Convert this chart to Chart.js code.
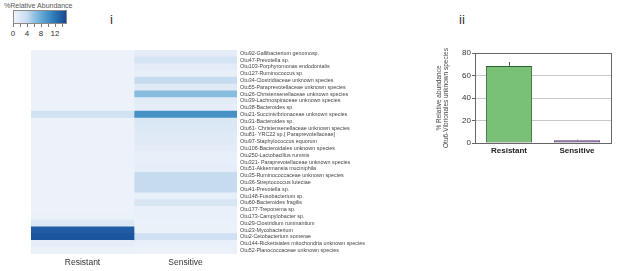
<!DOCTYPE html>
<html>
<head>
<meta charset="utf-8">
<script src="https://cdn.jsdelivr.net/npm/chart.js@4/dist/chart.umd.min.js"></script>
<style>
	* { box-sizing: border-box; }
	body { margin: 0; width: 617px; height: 271px; background: #fff; position: relative; overflow: hidden;
		font-family: "Liberation Sans", Arial, sans-serif; color: #333; }
	canvas { position: absolute; top: 0; }
	.txt { position: absolute; white-space: nowrap; }
	#bar-key { position: absolute; left: 13px; top: 10px; width: 54px; height: 14px; border: 1px solid #8a8a8a; }
	#bar-ticks { position: absolute; left: 13px; top: 24px; width: 55px; height: 3px;
		background: repeating-linear-gradient(to right, #777 0 1px, transparent 1px 7px); }
</style>
</head>
<body>
<div class="txt" style="left:4px;top:2px;font-size:7px;color:#555">%Relative Abundance</div>
<div id="bar-key"></div>
<div id="bar-ticks"></div>
<div id="key-labels"></div>
<div class="txt" style="left:110px;top:12px;font-size:13px">i</div>
<div class="txt" style="left:459px;top:12px;font-size:13px">ii</div>
<canvas id="heat" width="420" height="271" style="left:0"></canvas>
<canvas id="otu6" width="197" height="271" style="left:420px"></canvas>
<script>
const otus = [
	"Otu92-Gallibacterium genomosp.",
	"Otu47-Prevotella sp.",
	"Otu103-Porphyromonas endodontalis",
	"Otu127-Ruminococcus sp.",
	"Otu34-Clostridiaceae unknown species",
	"Otu55-Paraprevotellaceae unknown species",
	"Otu26-Christensenellaceae unknown species",
	"Otu39-Lachnospiraceae unknown species",
	"Otu38-Bacteroides sp.",
	"Otu21-Succinivibrionaceae unknown species",
	"Otu31-Bacteroides sp.",
	"Otu61- Christensenellaceae unknown species",
	"Otu81- YRC22 sp.[ Paraprevotellaceae]",
	"Otu97-Staphylococcus equorum",
	"Otu106-Bacteroidales unknown species",
	"Otu250-Lactobacillus ruminis",
	"Otu321- Paraprevotellaceae unknown species",
	"Otu51-Akkermansia muciniphila",
	"Otu35-Ruminococcaceae unknown species",
	"Otu36-Streptococcus luteciae",
	"Otu41-Prevotella sp.",
	"Otu148-Fusobacterium sp.",
	"Otu60-Bacteroides fragilis",
	"Otu177-Treponema sp.",
	"Otu173-Campylobacter sp.",
	"Otu29-Clostridium ruminantium",
	"Otu23-Mycobacterium",
	"Otu2-Cetobacterium somerae",
	"Otu144-Rickettsiales mitochondria unknown species",
	"Otu52-Planococcaceae unknown species"
];
const groups = ["Resistant", "Sensitive"];

// % relative abundance per OTU
const resistant = [0.3, 0.3, 0.3, 0.3, 0.3, 0.3, 0.3, 0.3, 0.3, 2.8,
	0.3, 0.3, 0.3, 0.3, 0.3, 0.3, 0.3, 0.3, 0.3, 0.3,
	0.3, 0.3, 0.4, 0.4, 0.5, 1.8, 14, 14.5, 1, 0.5];
const sensitive = [1.2, 2.5, 1.2, 0.8, 3.8, 1.5, 6.5, 1.3, 1, 10,
	2, 1.8, 1.5, 1.5, 1.2, 0.8, 0.8, 1, 3.8, 3.8,
	3.8, 0.8, 2.2, 0.6, 0.6, 0.5, 0.5, 3, 0.6, 0.4];

const keyTicks = [0, 4, 8, 12];
const keyMax = 15.4;

// Otu6-Vibrionales panel
const otu6Mean = [68.5, 2.5];
const otu6Err = [3.5, 0.5];
const otu6Ticks = [0, 20, 40, 60, 80];

const stops = [[0, [240, 244, 251]], [0.25, [198, 219, 239]], [0.5, [107, 174, 214]],
	[0.75, [47, 126, 188]], [1, [22, 72, 148]]];

function shade(v)
{
	let t = Math.max(0, Math.min(1, v / keyMax));
	for (let i = 1; i < stops.length; i++)
		if (t <= stops[i][0])
		{
			let [t0, a] = stops[i - 1], [t1, b] = stops[i];
			let f = (t - t0) / (t1 - t0);
			return "rgb(" + a.map((c, k) => Math.round(c + (b[k] - c) * f)).join(",") + ")";
		}
	return "rgb(" + stops[stops.length - 1][1].join(",") + ")";
}

document.getElementById("bar-key").style.background = "linear-gradient(to right," +
	stops.map(s => "rgb(" + s[1].join(",") + ") " + (s[0] * 100) + "%").join(",") + ")";
document.getElementById("key-labels").innerHTML = keyTicks.map(v =>
	`<div class="txt" style="left:${13 + v * 3.5 - 10}px;width:20px;text-align:center;top:29px;font-size:8px">${v}</div>`).join("");

Chart.defaults.font.family = '"Liberation Sans", Arial, sans-serif';
Chart.defaults.color = "#333";

new Chart(document.getElementById("heat"), {
	type: "bar",
	data: {
		labels: otus,
		datasets: [
			{label: groups[0], data: otus.map(() => [0, 1]), backgroundColor: resistant.map(shade)},
			{label: groups[1], data: otus.map(() => [1, 2]), backgroundColor: sensitive.map(shade)}
		]
	},
	options: {
		indexAxis: "y",
		responsive: false,
		animation: false,
		layout: {padding: {left: 31, top: 50, right: 0, bottom: 0}},
		datasets: {bar: {grouped: false, barPercentage: 1, categoryPercentage: 1, borderWidth: 0}},
		plugins: {legend: {display: false}, tooltip: {enabled: false}},
		scales: {
			x: {
				type: "linear", min: 0, max: 2,
				grid: {display: false, drawTicks: false}, border: {display: false},
				afterBuildTicks: s => { s.ticks = [{value: 0.5}, {value: 1.5}]; },
				afterFit: s => { s.height = 17; },
				ticks: {callback: (v, i) => groups[i], font: {size: 8.5}, color: "#333", padding: 4, maxRotation: 0}
			},
			y: {
				position: "right",
				grid: {display: false, drawTicks: false}, border: {display: false},
				afterFit: s => { s.width = 183; },
				ticks: {autoSkip: false, font: {size: 5.4}, color: "#444", padding: 3}
			}
		}
	}
});

const frame = {
	id: "frame",
	afterDatasetsDraw(chart)
	{
		let {ctx, chartArea: a, scales: {y}} = chart;
		ctx.save();
		ctx.strokeStyle = "#555";
		ctx.lineWidth = 1;
		chart.getDatasetMeta(0).data.forEach((bar, i) =>
		{
			let top = y.getPixelForValue(otu6Mean[i] + otu6Err[i]);
			ctx.beginPath();
			ctx.moveTo(Math.round(bar.x) + 0.5, bar.y);
			ctx.lineTo(Math.round(bar.x) + 0.5, top);
			ctx.stroke();
		});
		ctx.strokeStyle = "#666";
		ctx.strokeRect(Math.round(a.left) + 0.5, Math.round(a.top) + 0.5,
			Math.round(a.right - a.left), Math.round(a.bottom - a.top));
		ctx.restore();
	}
};

new Chart(document.getElementById("otu6"), {
	type: "bar",
	data: {
		labels: groups,
		datasets: [{
			data: otu6Mean,
			backgroundColor: ["#79c176", "#a98bc7"],
			borderColor: ["#2f5f2f", "#5a3f78"],
			borderWidth: 1,
			borderSkipped: false,
			barPercentage: 0.68,
			categoryPercentage: 1
		}]
	},
	options: {
		responsive: false,
		animation: false,
		layout: {padding: {left: 15, top: 53, right: 6, bottom: 0}},
		plugins: {legend: {display: false}, tooltip: {enabled: false}},
		scales: {
			x: {
				grid: {display: false, drawTicks: false},
				border: {color: "#666"},
				afterFit: s => { s.height = 128; },
				ticks: {font: {size: 8, weight: "bold"}, color: "#222", padding: 3}
			},
			y: {
				min: 0, max: 80,
				afterBuildTicks: s => { s.ticks = otu6Ticks.map(value => ({value})); },
				afterFit: s => { s.width = 40; },
				grid: {color: "#c8c8c8", tickColor: "#666", tickLength: 3, drawTicks: true},
				border: {color: "#666"},
				ticks: {font: {size: 8}, color: "#333", padding: 1},
				title: {
					display: true,
					text: ["% Relative abundance", "Otu6-Vibrionales unknown species"],
					font: {size: 6.5}, color: "#444", padding: {top: 0, bottom: 2}
				}
			}
		}
	},
	plugins: [frame]
});
</script>
</body>
</html>
